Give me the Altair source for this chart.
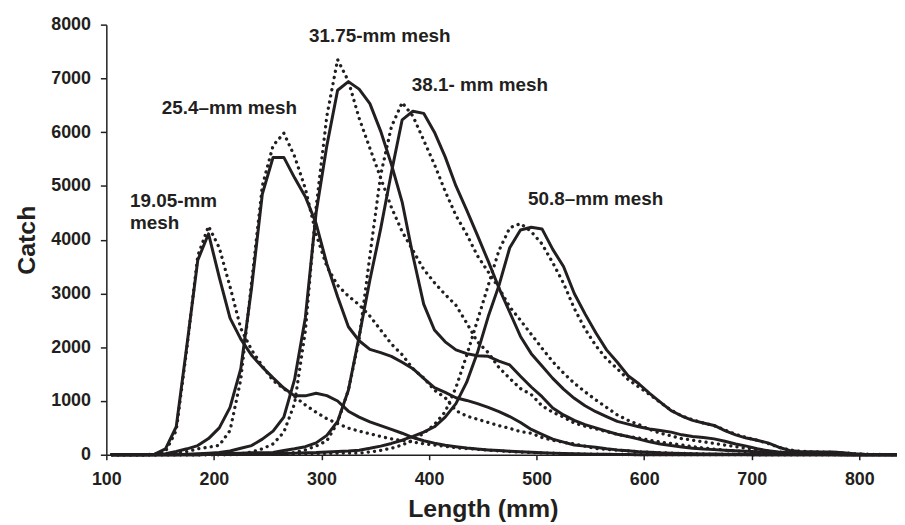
import altair as alt
import pandas as pd

# bin mid-points (mm)
lengths = [105, 115, 125, 135, 145, 155, 165, 175, 185, 195,
           205, 215, 225, 235, 245, 255, 265, 275, 285, 295,
           305, 315, 325, 335, 345, 355, 365, 375, 385, 395,
           405, 415, 425, 435, 445, 455, 465, 475, 485, 495,
           505, 515, 525, 535, 545, 555, 565, 575, 585, 595,
           605, 615, 625, 635, 645, 655, 665, 675, 685, 695,
           705, 715, 725, 735, 745, 755, 765, 775, 785, 795,
           805, 815, 825, 835]

# observed catch (solid lines)
obs_19 = [0, 0, 0, 0, 10, 110, 520, 2050, 3620, 4110,
          3300, 2540, 2150, 1850, 1630, 1430, 1240, 1095, 1095, 1144,
          1100, 1000, 810, 700, 610, 541, 470, 400, 320, 260,
          215, 175, 150, 125, 105, 90, 78, 65, 55, 45,
          38, 30, 25, 20, 15, 10, 8, 5, 3, 0,
          0, 0, 0, 0, 0, 0, 0, 0, 0, 0,
          0, 0, 0, 0, 0, 0, 0, 0, 0, 0,
          0, 0, 0, 0]
obs_25 = [0, 0, 0, 0, 0, 20, 60, 110, 170, 300,
          500, 880, 1600, 3100, 4850, 5530, 5530, 5150, 4800, 4300,
          3550, 2940, 2380, 2120, 1960, 1900, 1830, 1720, 1600, 1420,
          1250, 1160, 1060, 1010, 950, 880, 800, 710, 600, 470,
          380, 290, 234, 180, 160, 140, 110, 90, 75, 55,
          45, 35, 30, 25, 20, 15, 12, 10, 8, 5,
          0, 0, 0, 0, 0, 0, 0, 0, 0, 0,
          0, 0, 0, 0]
obs_31 = [0, 0, 0, 0, 0, 0, 0, 10, 20, 30,
          40, 70, 120, 170, 290, 440, 700, 1400, 2550, 4500,
          5750, 6780, 6940, 6800, 6530, 6020, 5400, 4700, 3700, 2800,
          2320, 2100, 1950, 1880, 1840, 1830, 1740, 1670, 1460, 1260,
          1080, 870, 740, 640, 560, 500, 440, 380, 340, 290,
          240, 200, 170, 145, 120, 105, 95, 85, 75, 65,
          55, 45, 35, 25, 18, 12, 8, 5, 0, 0,
          0, 0, 0, 0]
obs_38 = [0, 0, 0, 0, 0, 0, 0, 0, 0, 10,
          20, 25, 30, 35, 38, 40, 80, 110, 150, 220,
          360, 620, 1200, 2200, 3250, 4200, 5250, 6230, 6390, 6350,
          6000, 5540, 5000, 4550, 4080, 3600, 3100, 2650, 2200, 1880,
          1650, 1420, 1220, 1050, 910, 800, 710, 620, 570, 520,
          480, 450, 420, 370, 340, 320, 295, 250, 200, 160,
          110, 75, 50, 35, 22, 15, 10, 6, 4, 0,
          0, 0, 0, 0]
obs_50 = [0, 0, 0, 0, 0, 0, 0, 0, 0, 5,
          5, 10, 10, 15, 15, 20, 25, 30, 35, 40,
          50, 60, 70, 85, 120, 160, 210, 270, 340, 420,
          520, 700, 950, 1350, 1900, 2570, 3150, 3850, 4180, 4230,
          4200, 3820, 3500, 3000, 2620, 2270, 1950, 1720, 1470, 1320,
          1140, 980, 820, 720, 640, 590, 545, 450, 370, 310,
          270, 220, 140, 80, 60, 55, 50, 50, 35, 20,
          10, 5, 3, 0]

# predicted catch (dotted lines)
pred_19 = [0, 0, 0, 0, 10, 60, 450, 2000, 3700, 4250,
           3850, 3124, 2350, 1950, 1650, 1380, 1230, 1080, 925, 790,
           670, 580, 495, 440, 390, 340, 295, 265, 235, 205,
           180, 155, 130, 115, 100, 85, 72, 60, 50, 42,
           35, 28, 22, 17, 13, 10, 7, 5, 3, 0,
           0, 0, 0, 0, 0, 0, 0, 0, 0, 0,
           0, 0, 0, 0, 0, 0, 0, 0, 0, 0,
           0, 0, 0, 0]
pred_25 = [0, 0, 0, 0, 0, 10, 30, 60, 110, 140,
           175, 450, 1400, 3200, 5000, 5750, 5980, 5550, 4950, 4100,
           3500, 3150, 2950, 2790, 2580, 2320, 2060, 1860, 1600, 1430,
           1200, 1060, 820, 720, 660, 600, 540, 490, 430, 400,
           320, 270, 230, 200, 160, 115, 100, 85, 70, 55,
           45, 38, 30, 25, 20, 15, 12, 10, 8, 5,
           0, 0, 0, 0, 0, 0, 0, 0, 0, 0,
           0, 0, 0, 0]
pred_31 = [0, 0, 0, 0, 0, 0, 0, 0, 0, 5,
           10, 15, 20, 50, 110, 200, 420, 950, 2300, 4600,
           6300, 7350, 6950, 6260, 5700, 5150, 4600, 4150, 3800, 3450,
           3200, 2980, 2780, 2450, 2100, 1900, 1620, 1420, 1230, 1120,
           910, 790, 700, 590, 530, 480, 430, 380, 340, 310,
           270, 235, 210, 180, 150, 125, 105, 85, 70, 55,
           45, 35, 25, 18, 12, 8, 5, 0, 0, 0,
           0, 0, 0, 0]
pred_38 = [0, 0, 0, 0, 0, 0, 0, 0, 0, 0,
           0, 5, 10, 15, 20, 30, 35, 40, 90, 160,
           260, 600, 1200, 2150, 3700, 5200, 6100, 6550, 6300, 5850,
           5400, 4900, 4450, 4100, 3700, 3400, 3100, 2750, 2500, 2240,
           1980, 1730, 1520, 1330, 1170, 1020, 880, 740, 640, 560,
           470, 400, 350, 300, 270, 240, 210, 180, 150, 120,
           95, 70, 50, 35, 22, 15, 10, 6, 4, 0,
           0, 0, 0, 0]
pred_50 = [0, 0, 0, 0, 0, 0, 0, 0, 0, 0,
           0, 0, 5, 5, 10, 10, 15, 15, 20, 25,
           25, 30, 30, 30, 50, 80, 120, 180, 270, 400,
           560, 800, 1250, 1850, 2500, 3150, 3800, 4220, 4300, 4150,
           3920, 3570, 3190, 2720, 2340, 2030, 1780, 1600, 1400, 1260,
           1120, 970, 830, 720, 650, 590, 540, 460, 380, 320,
           270, 210, 140, 90, 65, 55, 50, 45, 35, 20,
           10, 5, 3, 0]

meshes = ["19.05", "25.4", "31.75", "38.1", "50.8"]
observed = [obs_19, obs_25, obs_31, obs_38, obs_50]
predicted = [pred_19, pred_25, pred_31, pred_38, pred_50]

# label text and where it sits (data units, left/baseline)
label_text = ["19.05‑mm", "mesh", "25.4–mm mesh", "31.75‑mm mesh",
              "38.1‑ mm mesh", "50.8–mm mesh"]
label_x = [122, 122, 151.5, 288.5, 384, 492]
label_y = [4600, 4200, 6330, 7680, 6760, 4650]

rows = []
for mesh, obs, pred in zip(meshes, observed, predicted):
    for L, o, p in zip(lengths, obs, pred):
        rows.append({"length": L, "catch": o, "series": mesh + " obs", "kind": "obs"})
        rows.append({"length": L, "catch": p, "series": mesh + " pred", "kind": "pred"})
df = pd.DataFrame(rows)
labels = pd.DataFrame({"text": label_text, "x": label_x, "y": label_y})

INK = "#231f20"
FONT = "Liberation Sans"

x_enc = alt.X(
    "length:Q",
    scale=alt.Scale(domain=[100, 835], nice=False, zero=False),
    axis=alt.Axis(
        title="Length (mm)", values=[100, 200, 300, 400, 500, 600, 700, 800],
        format="d", grid=False, tickSize=5, labelPadding=11, labelFlush=False,
        titleX=379, titleY=62, titleBaseline="alphabetic", titleAlign="center",
    ),
)
y_enc = alt.Y(
    "catch:Q",
    scale=alt.Scale(domain=[0, 8000], nice=False),
    axis=alt.Axis(
        title="Catch", values=[0, 1000, 2000, 3000, 4000, 5000, 6000, 7000, 8000],
        format="d", grid=False, tickSize=6, labelPadding=10, labelFlush=False,
        titleX=-72, titleBaseline="alphabetic",
    ),
)

base = alt.Chart(df)

solid = base.transform_filter(alt.datum.kind == "obs").mark_line(
    color=INK, strokeWidth=3, strokeJoin="round"
).encode(x=x_enc, y=y_enc, detail="series:N")

dotted = base.transform_filter(alt.datum.kind == "pred").mark_line(
    color=INK, strokeWidth=3.3, strokeDash=[0.1, 6.2], strokeCap="round"
).encode(x="length:Q", y="catch:Q", detail="series:N")

text = alt.Chart(labels).mark_text(
    align="left", baseline="alphabetic", font=FONT, fontSize=19,
    fontWeight="bold", color=INK
).encode(x="x:Q", y="y:Q", text="text:N")

chart = (
    alt.layer(dotted, solid, text)
    .properties(
        width=796, height=433,
        padding={"left": 99, "top": 15, "right": 0, "bottom": 69},
        autosize=alt.AutoSizeParams(type="none"),
        background="white",
    )
    .configure_view(stroke=None)
    .configure_axis(
        domainColor=INK, domainWidth=1.5, tickColor=INK, tickWidth=1.5,
        labelFont=FONT, labelFontSize=18, labelFontWeight="bold", labelColor=INK,
        titleFont=FONT, titleFontSize=25, titleFontWeight="bold", titleColor=INK,
    )
)

chart.save("out.html", embed_options={"renderer": "svg", "actions": False})
